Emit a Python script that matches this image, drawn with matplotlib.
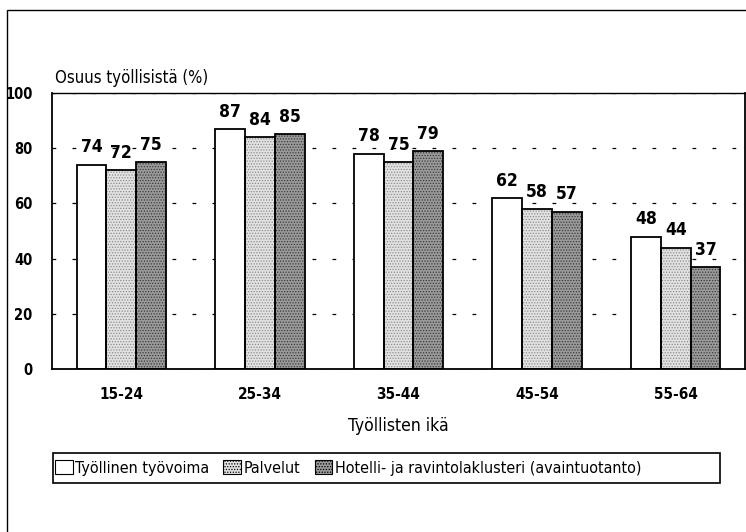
import matplotlib
matplotlib.use("Agg")
import matplotlib.pyplot as plt
from matplotlib.patches import Rectangle, Patch
import numpy as np

categories = ["15-24", "25-34", "35-44", "45-54", "55-64"]
series_names = ["Työllinen työvoima", "Palvelut", "Hotelli- ja ravintolaklusteri (avaintuotanto)"]
tyollinen = [74, 87, 78, 62, 48]
palvelut = [72, 84, 75, 58, 44]
hotelli = [75, 85, 79, 57, 37]
yticks = [0, 20, 40, 60, 80, 100]

plt.rcParams['font.family'] = ['DejaVu Sans']
plt.rcParams['font.stretch'] = 'condensed'
plt.rcParams['hatch.linewidth'] = 0.6

W, H = 746, 532
fig = plt.figure(figsize=(W / 100, H / 100), dpi=100)
ax = fig.add_axes([52 / W, 1 - 369 / H, (745 - 52) / W, (369 - 93) / H])

fig.patches.append(Rectangle((7 / W, -0.1), 1.2, 1 - 10 / H + 0.1, transform=fig.transFigure,
                             fill=False, edgecolor='black', linewidth=1.0))

x = np.arange(len(categories))
bw = 0.215
offsets = [-bw, 0, bw]
styles = [
    dict(face='white', hatch=None, hcol='white'),
    dict(face='#e2e2e2', hatch='......', hcol='#8c8c8c'),
    dict(face='#9a9a9a', hatch='......', hcol='#3a3a3a'),
]
data = [tyollinen, palvelut, hotelli]
for vals, off, st in zip(data, offsets, styles):
    ax.bar(x + off, vals, bw, color=st['face'], hatch=st['hatch'], edgecolor=st['hcol'],
           linewidth=0, zorder=2)
    ax.bar(x + off, vals, bw, fill=False, edgecolor='black', linewidth=1.3, zorder=3)
    for xi, v in zip(x + off, vals):
        ax.annotate(f"{v}", (xi, v), xytext=(0, 6), textcoords='offset points',
                    ha='center', va='bottom', fontsize=12.5, fontweight='bold', zorder=4)

ax.set_xlim(-0.5, len(categories) - 0.5)
ax.set_ylim(0, 100)
ax.set_yticks(yticks)
ax.set_yticklabels([str(t) for t in yticks], fontsize=10.5, fontweight='bold')
ax.set_xticks(x)
ax.set_xticklabels(categories, fontsize=11, fontweight='bold')
ax.tick_params(axis='both', length=0)
ax.tick_params(axis='y', pad=14)
ax.tick_params(axis='x', pad=13)
ax.yaxis.grid(True, color='black', linestyle=(0, (3, 13)), linewidth=0.9)
ax.set_axisbelow(True)
for s in ax.spines.values():
    s.set_linewidth(1.3)
ax.spines['top'].set_linewidth(1.0)

ax.set_xlabel("Työllisten ikä", fontsize=12.5, labelpad=11)
fig.text(55 / W, 1 - 78 / H, "Osuus työllisistä (%)", fontsize=12, ha='left', va='center')

# legend frame
fig.patches.append(Rectangle((53 / W, 1 - 483 / H), (720 - 53) / W, 30 / H,
                             transform=fig.transFigure, fill=False, edgecolor='black',
                             linewidth=1.2))
handles = [Patch(facecolor=st['face'], hatch=st['hatch'], edgecolor='black', linewidth=0.8)
           for st in styles]
leg = fig.legend(handles, series_names, loc='center left',
                 bbox_to_anchor=(55 / W, 1 - 468 / H), bbox_transform=fig.transFigure,
                 ncol=3, frameon=False, fontsize=11.5,
                 handlelength=1.1, handleheight=1.0, handletextpad=0.15, columnspacing=0.9,
                 borderpad=0.0, borderaxespad=0)

fig.savefig("out.png", dpi=100)
